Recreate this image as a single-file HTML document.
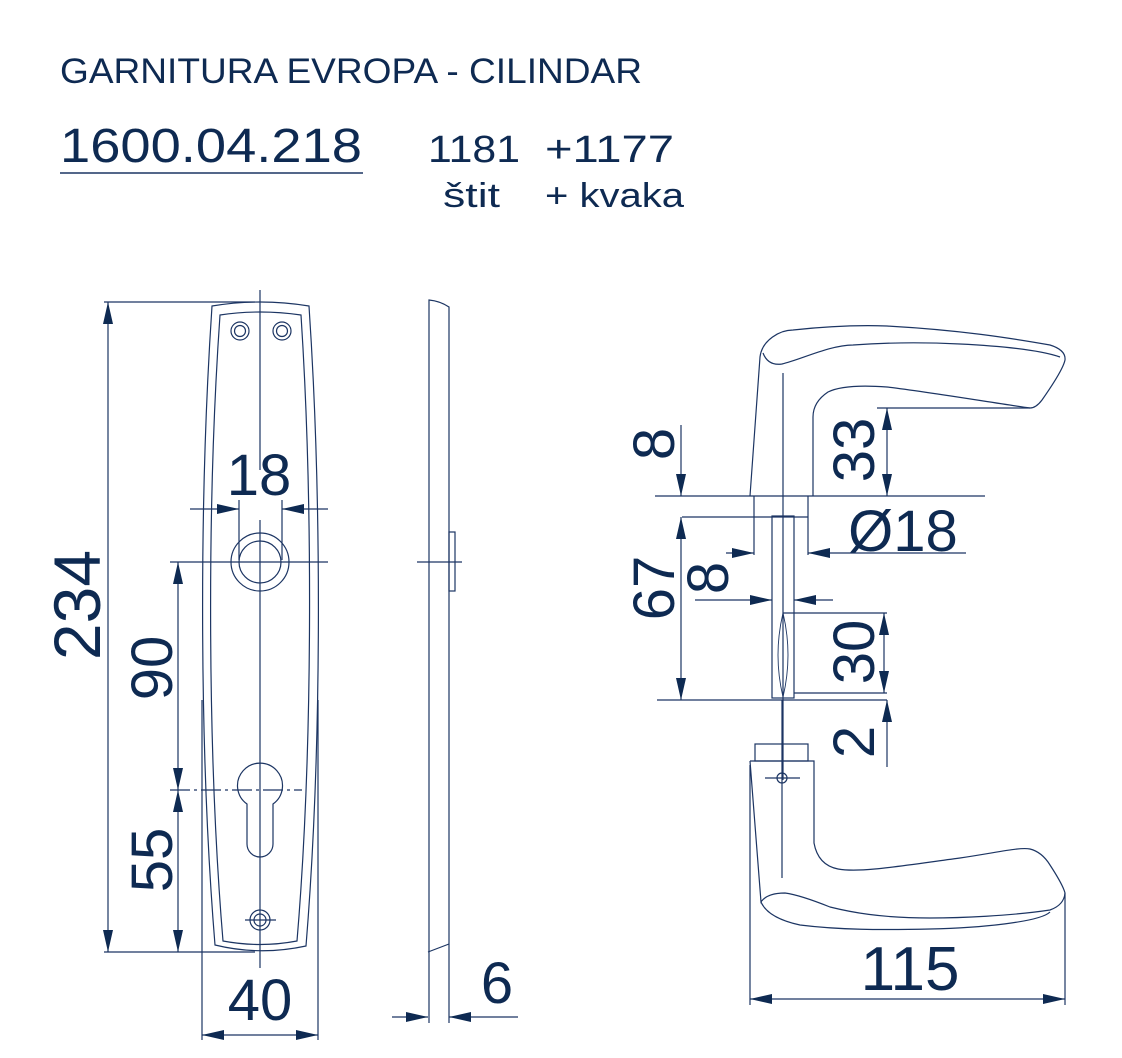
<!DOCTYPE html>
<html><head><meta charset="utf-8"><style>
html,body{margin:0;padding:0;background:#fff;}
svg{display:block;}
text{font-family:"Liberation Sans",sans-serif;fill:#0e2a52;}
</style></head><body>
<svg width="1122" height="1058" viewBox="0 0 1122 1058" xmlns="http://www.w3.org/2000/svg">
<defs>
<marker id="a" viewBox="0 0 22 10" markerWidth="22" markerHeight="10" refX="22" refY="5" orient="auto-start-reverse" markerUnits="userSpaceOnUse">
<path d="M0,0 L22,5 L0,10 z" fill="#0e2a52"/></marker>
</defs>
<g fill="none" stroke="#1c3563" stroke-width="1.2">
<!-- header -->
<line x1="60" y1="173" x2="363" y2="173" stroke-width="1.6"/>
<!-- front plate -->
<path d="M212,306 Q260,298 309,306 C322,500 322,750 306,946 Q260,956 215,945 C199,750 199,500 212,306 Z"/>
<path d="M220,315 Q260,309 301,315 C313,500 313,750 297,941 Q260,948 223,941 C207,750 207,500 220,315 Z"/>
<line x1="260" y1="290" x2="260" y2="470"/>
<line x1="260" y1="520" x2="260" y2="968"/>
<circle cx="240" cy="331" r="9"/><circle cx="240" cy="331" r="5.5"/>
<circle cx="282" cy="331" r="9"/><circle cx="282" cy="331" r="5.5"/>
<circle cx="260" cy="562" r="29"/><circle cx="260" cy="562" r="21"/>
<line x1="170" y1="562" x2="328" y2="562"/>
<line x1="239" y1="500" x2="239" y2="560"/><line x1="282" y1="500" x2="282" y2="560"/>
<line x1="190" y1="509" x2="239" y2="509" marker-end="url(#a)"/>
<line x1="328" y1="509" x2="282" y2="509" marker-end="url(#a)"/>
<path d="M247,804 A22.5,22.5 0 1 1 273,804 L273,844 A13,13 0 0 1 247,844 Z"/>
<line x1="170" y1="790" x2="302" y2="790" stroke-dasharray="20,4,3,4"/>
<circle cx="260" cy="920" r="10"/><circle cx="260" cy="920" r="6"/>
<line x1="245" y1="920" x2="276" y2="920"/>
<!-- left dims -->
<line x1="104" y1="302" x2="255" y2="302"/>
<line x1="104" y1="952" x2="255" y2="952"/>
<line x1="108" y1="302" x2="108" y2="952" marker-start="url(#a)" marker-end="url(#a)"/>
<line x1="178" y1="562" x2="178" y2="790" marker-start="url(#a)" marker-end="url(#a)"/>
<line x1="178" y1="790" x2="178" y2="952" marker-start="url(#a)" marker-end="url(#a)"/>
<line x1="202" y1="700" x2="202" y2="1040"/><line x1="318" y1="700" x2="318" y2="1040"/>
<line x1="202" y1="1035" x2="318" y2="1035" marker-start="url(#a)" marker-end="url(#a)"/>
<!-- side view -->
<path d="M429,1023 L429,300 Q440,301 449,307 L449,1023"/>
<line x1="428" y1="952" x2="449" y2="944"/>
<rect x="449" y="532" width="6" height="59"/>
<line x1="417" y1="562" x2="462" y2="562"/>
<line x1="392" y1="1017" x2="428" y2="1017" marker-end="url(#a)"/>
<line x1="518" y1="1017" x2="449" y2="1017" marker-end="url(#a)"/>
<!-- upper handle -->
<path d="M750,496 L760,357 C762,340 780,330 793,330 C830,326 860,325 887,326 C960,330 1010,338 1050,345 Q1066,350 1065,360 Q1063,370 1042,400 Q1036,408 1030,408 C1000,404 930,392 887,387 C860,385 840,386 828,392 Q813,402 813,417 L813,496"/>
<path d="M763,353 Q768,366 782,364 C800,360 830,345 853,345 C880,343 920,342 960,344 C1000,346 1040,350 1060,357"/>
<line x1="655" y1="496" x2="985" y2="496"/>
<line x1="783" y1="373" x2="783" y2="780"/>
<line x1="754" y1="496" x2="754" y2="555"/><line x1="808" y1="496" x2="808" y2="555"/>
<line x1="682" y1="517" x2="808" y2="517"/>
<rect x="772" y="516" width="22" height="182"/>
<path d="M783,613 Q793,655 783,697 Q773,655 783,613 Z" stroke-width="0.9"/>
<line x1="726" y1="553" x2="754" y2="553" marker-end="url(#a)"/>
<line x1="966" y1="553" x2="808" y2="553" marker-end="url(#a)"/>
<line x1="695" y1="600" x2="772" y2="600" marker-end="url(#a)"/>
<line x1="833" y1="600" x2="794" y2="600" marker-end="url(#a)"/>
<line x1="783" y1="613" x2="887" y2="613"/>
<line x1="794" y1="693" x2="887" y2="693"/>
<line x1="884" y1="613" x2="884" y2="693" marker-start="url(#a)" marker-end="url(#a)"/>
<line x1="657" y1="700" x2="887" y2="700"/>
<line x1="681" y1="517" x2="681" y2="700" marker-start="url(#a)" marker-end="url(#a)"/>
<line x1="681" y1="425" x2="681" y2="496" marker-end="url(#a)"/>
<line x1="877" y1="408" x2="1030" y2="408"/>
<line x1="887" y1="408" x2="887" y2="496" marker-start="url(#a)" marker-end="url(#a)"/>
<line x1="887" y1="767" x2="887" y2="700" marker-end="url(#a)"/>
<!-- lower handle -->
<rect x="755" y="744" width="53" height="17"/>
<path d="M750,761 L814,761 L814,843 Q818,865 838,869 C860,873 900,866 960,858 C1000,852 1020,847 1030,849 Q1042,852 1050,865 Q1063,885 1065,893 Q1064,905 1050,910 C1010,916 960,918 930,918 C880,918 850,912 830,907 Q800,895 785,893 Q767,893 761,902 L750,761"/>
<path d="M761,902 Q768,918 800,925 C840,930 880,930 930,929 C980,928 1040,922 1050,912"/>
<circle cx="782" cy="778" r="5"/>
<line x1="765" y1="778" x2="800" y2="778"/>
<line x1="782" y1="700" x2="782" y2="878"/>
<line x1="750" y1="765" x2="750" y2="1005"/><line x1="1065" y1="893" x2="1065" y2="1005"/>
<line x1="750" y1="999" x2="1065" y2="999" marker-start="url(#a)" marker-end="url(#a)"/>
</g>
<!-- texts -->
<text x="60" y="83" font-size="35" textLength="582" lengthAdjust="spacingAndGlyphs">GARNITURA EVROPA - CILINDAR</text>
<text x="60" y="162" font-size="48" textLength="302" lengthAdjust="spacingAndGlyphs">1600.04.218</text>
<text x="428" y="162" font-size="38" textLength="92" lengthAdjust="spacingAndGlyphs">1181</text>
<text x="545" y="162" font-size="38" textLength="129" lengthAdjust="spacingAndGlyphs">+1177</text>
<text x="443" y="207" font-size="34" textLength="57" lengthAdjust="spacingAndGlyphs">štit</text>
<text x="545" y="207" font-size="34" textLength="139" lengthAdjust="spacingAndGlyphs">+ kvaka</text>
<g font-size="58">
<text x="259" y="495" text-anchor="middle">18</text>
<text x="260" y="1020" text-anchor="middle">40</text>
<text x="497" y="1003" text-anchor="middle">6</text>
<text x="903" y="551" text-anchor="middle">Ø18</text>
<text x="910" y="990" text-anchor="middle" font-size="62">115</text>
<text transform="translate(100,605) rotate(-90)" text-anchor="middle" font-size="66">234</text>
<text transform="translate(172,668) rotate(-90)" text-anchor="middle">90</text>
<text transform="translate(172,860) rotate(-90)" text-anchor="middle">55</text>
<text transform="translate(674,444) rotate(-90)" text-anchor="middle">8</text>
<text transform="translate(674,588) rotate(-90)" text-anchor="middle">67</text>
<text transform="translate(728,578) rotate(-90)" text-anchor="middle">8</text>
<text transform="translate(874,450) rotate(-90)" text-anchor="middle">33</text>
<text transform="translate(874,652) rotate(-90)" text-anchor="middle">30</text>
<text transform="translate(874,742) rotate(-90)" text-anchor="middle">2</text>
</g>
</svg>
</body></html>
